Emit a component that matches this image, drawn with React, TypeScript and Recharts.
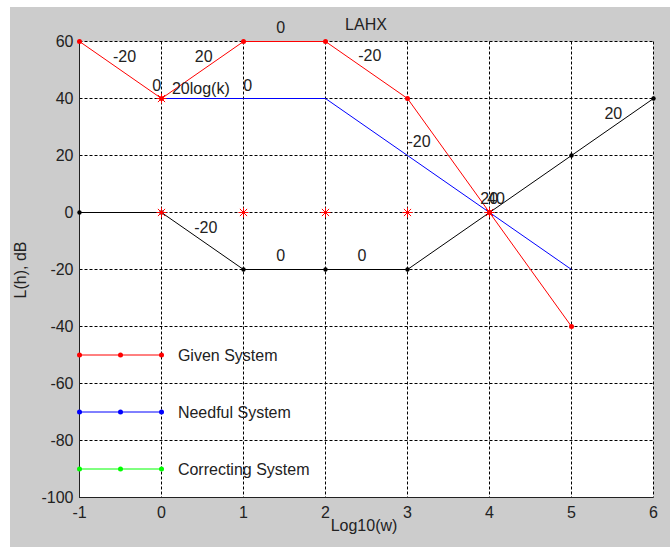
import React from "react";
import {
  ComposedChart,
  Line,
  Scatter,
  XAxis,
  YAxis,
  CartesianGrid,
  ReferenceDot,
} from "recharts";

const xTicks = [-1, 0, 1, 2, 3, 4, 5, 6];
const yTicks = [-100, -80, -60, -40, -20, 0, 20, 40, 60];

// Given system (red)
const givenX = [-1, 0, 1, 2, 3, 4, 5];
const givenY = [60, 40, 60, 60, 40, 0, -40];

// Needful system (blue)
const needfulX = [0, 1, 2, 3, 4, 5];
const needfulY = [40, 40, 40, 20, 0, -20];

// Correcting system (black on the plot)
const correctingX = [-1, 0, 1, 2, 3, 4, 5, 6];
const correctingY = [0, 0, -20, -20, -20, 0, 20, 40];

// red asterisks
const starX = [0, 0, 1, 2, 3, 4];
const starY = [40, 0, 0, 0, 0, 0];

// slope annotations
const noteText = ["-20", "20", "0", "-20", "0", "20log(k)", "0", "-20", "20", "-20", "0", "0", "20", "40"];
const noteX = [-0.45, 0.515, 1.455, 2.54, -0.06, 0.48, 1.05, 3.14, 5.51, 0.54, 1.455, 2.445, 3.996, 4.08];
const noteY = [54.7, 54.7, 64.8, 55, 44.6, 43.5, 44.6, 25, 34.7, -5.3, -15.2, -15.2, 5, 5];

// legend drawn inside the axes
const legendNames = ["Given System", "Needful System", "Correcting System"];
const legendY = [-50, -70, -90];
const legendSegX = [-1, -0.5, 0];
const legendTextX = 0.2;

const FONT = "'Liberation Sans', Arial, sans-serif";
const TEXT = "#222";

const toPoints = (xs: number[], ys: number[]) => xs.map((x, i) => ({ x, y: ys[i] }));

const Star = (props: any) => {
  const { cx, cy } = props;
  const s = 5;
  const d = 3.6;
  return (
    <g stroke="#ff0000" strokeWidth={1}>
      <line x1={cx - s} y1={cy} x2={cx + s} y2={cy} />
      <line x1={cx} y1={cy - s} x2={cx} y2={cy + s} />
      <line x1={cx - d} y1={cy - d} x2={cx + d} y2={cy + d} />
      <line x1={cx - d} y1={cy + d} x2={cx + d} y2={cy - d} />
    </g>
  );
};

const textShape = (value: string, anchor: "middle" | "start") => (p: any) => (
  <text
    x={p.cx}
    y={p.cy}
    textAnchor={anchor}
    dominantBaseline="central"
    fontFamily={FONT}
    fontSize={16}
    fill={TEXT}
  >
    {value}
  </text>
);

const legendColors = ["#ff0000", "#0000ff", "#00ff00"];

export default function App() {
  const tickStyle = { fontFamily: FONT, fontSize: 16, fill: TEXT };

  return (
    <div
      style={{
        position: "absolute",
        left: 0,
        top: 0,
        width: 670,
        height: 547,
        background: "#fff",
        overflow: "hidden",
      }}
    >
      <div
        style={{
          position: "absolute",
          left: 10,
          top: 7,
          width: 660,
          height: 540,
          background: "#cccccc",
        }}
      />
      <div style={{ position: "absolute", left: 0, top: 0 }}>
        <ComposedChart
          width={670}
          height={547}
          margin={{ top: 41.5, right: 16.5, bottom: 0, left: 0.5 }}
        >
          <CartesianGrid
            fill="#ffffff"
            stroke="#000"
            strokeDasharray="3 2"
            horizontalValues={yTicks}
            verticalValues={xTicks}
          />
          <XAxis
            type="number"
            dataKey="x"
            domain={[-1, 6]}
            ticks={xTicks}
            height={49.5}
            tickSize={0}
            tickMargin={9}
            tick={tickStyle}
            axisLine={{ stroke: "#222" }}
            allowDuplicatedCategory={false}
          />
          <YAxis
            type="number"
            dataKey="y"
            domain={[-100, 60]}
            ticks={yTicks}
            width={79}
            tickSize={0}
            tickMargin={6}
            tick={tickStyle}
            axisLine={{ stroke: "#222" }}
          />

          {legendY.map((ly, i) => (
            <Line
              key={legendNames[i]}
              data={legendSegX.map((x) => ({ x, y: ly }))}
              dataKey="y"
              type="linear"
              stroke={legendColors[i]}
              strokeWidth={1}
              dot={{ r: 2.5, fill: legendColors[i], stroke: "none" }}
              isAnimationActive={false}
            />
          ))}

          <Line
            data={toPoints(correctingX, correctingY)}
            dataKey="y"
            type="linear"
            stroke="#000"
            strokeWidth={1}
            dot={{ r: 2.2, fill: "#000", stroke: "none" }}
            isAnimationActive={false}
          />
          <Line
            data={toPoints(needfulX, needfulY)}
            dataKey="y"
            type="linear"
            stroke="#0000ff"
            strokeWidth={1}
            dot={false}
            isAnimationActive={false}
          />
          <Line
            data={toPoints(givenX, givenY)}
            dataKey="y"
            type="linear"
            stroke="#ff0000"
            strokeWidth={1}
            dot={{ r: 2.5, fill: "#ff0000", stroke: "none" }}
            isAnimationActive={false}
          />
          <Scatter
            data={toPoints(starX, starY)}
            dataKey="y"
            shape={Star}
            isAnimationActive={false}
          />

          {noteText.map((t, i) => (
            <ReferenceDot
              key={`note-${i}`}
              x={noteX[i]}
              y={noteY[i]}
              r={0}
              ifOverflow="visible"
              shape={textShape(t, "middle")}
            />
          ))}
          {legendNames.map((name, i) => (
            <ReferenceDot
              key={`leg-${i}`}
              x={legendTextX}
              y={legendY[i]}
              r={0}
              ifOverflow="visible"
              shape={textShape(name, "start")}
            />
          ))}
        </ComposedChart>
      </div>

      <div
        style={{
          position: "absolute",
          left: 366,
          top: 25,
          transform: "translate(-50%, -50%)",
          fontFamily: FONT,
          fontSize: 16,
          color: TEXT,
          whiteSpace: "nowrap",
        }}
      >
        LAHX
      </div>
      <div
        style={{
          position: "absolute",
          left: 364,
          top: 526,
          transform: "translate(-50%, -50%)",
          fontFamily: FONT,
          fontSize: 16,
          color: TEXT,
          whiteSpace: "nowrap",
        }}
      >
        Log10(w)
      </div>
      <div
        style={{
          position: "absolute",
          left: 21,
          top: 270,
          transform: "translate(-50%, -50%) rotate(-90deg)",
          fontFamily: FONT,
          fontSize: 16,
          color: TEXT,
          whiteSpace: "nowrap",
        }}
      >
        L(h), dB
      </div>
    </div>
  );
}
